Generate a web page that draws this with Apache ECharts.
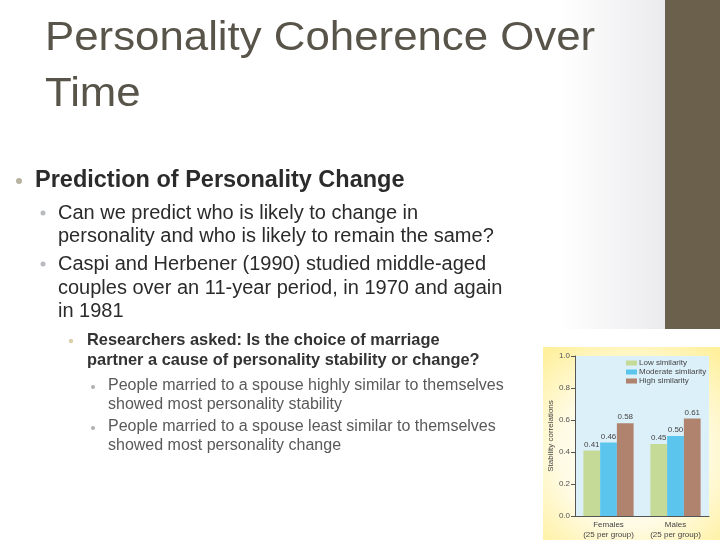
<!DOCTYPE html>
<html lang="en">
<head>
    <meta charset="utf-8">
    <title>Personality Coherence Over Time</title>
    <script src="https://cdn.jsdelivr.net/npm/echarts@6/dist/echarts.min.js"></script>
    <style>
        html, body { margin: 0; padding: 0; background: #fff; }
    </style>
</head>
<body>

<div id="main" style="width: 720px;height:540px;"></div>

<script>
    // chart data
    var categories = ['Females\n(25 per group)', 'Males\n(25 per group)'];
    var seriesNames = ['Low similarity', 'Moderate similarity', 'High similarity'];
    var lowSimilarity = [0.41, 0.45];
    var moderateSimilarity = [0.46, 0.50];
    var highSimilarity = [0.58, 0.61];
    var barColors = ['#c6da98', '#5cc5ee', '#b0836f'];

    var FONT = '"Liberation Sans", Arial, sans-serif';

    // slide text, one entry per line: [text, x, y, size, weight, color, scaleX]
    var slideLines = [
        ['Personality Coherence Over', 45, 38.5, 40, 'normal', '#58544a', 1.095],
        ['Time', 45, 94.5, 40, 'normal', '#58544a', 1.095],
        ['Prediction of Personality Change', 35, 181, 23.5, 'bold', '#2b2b2b', 1],
        ['Can we predict who is likely to change in', 58, 213, 20, 'normal', '#2b2b2b', 1],
        ['personality and who is likely to remain the same?', 58, 236.5, 20, 'normal', '#2b2b2b', 1],
        ['Caspi and Herbener (1990) studied middle-aged', 58, 264.5, 20, 'normal', '#2b2b2b', 1],
        ['couples over an 11-year period, in 1970 and again', 58, 288, 20, 'normal', '#2b2b2b', 1],
        ['in 1981', 58, 311.5, 20, 'normal', '#2b2b2b', 1],
        ['Researchers asked: Is the choice of marriage', 87, 340, 16.4, 'bold', '#333333', 1],
        ['partner a cause of personality stability or change?', 87, 360, 16.4, 'bold', '#333333', 1],
        ['People married to a spouse highly similar to themselves', 108, 386, 16, 'normal', '#595959', 1],
        ['showed most personality stability', 108, 405, 16, 'normal', '#595959', 1],
        ['People married to a spouse least similar to themselves', 108, 427, 16, 'normal', '#595959', 1],
        ['showed most personality change', 108, 446, 16, 'normal', '#595959', 1]
    ];
    // bullet dots: [x, y, r, color]
    var bullets = [
        [19, 181, 3, '#b8b3a0'],
        [43, 213, 2.5, '#b8bcc0'],
        [43, 264, 2.5, '#b8bcc0'],
        [71, 341, 2.2, '#d8d0a8'],
        [93, 387, 2, '#b0b0b0'],
        [93, 428, 2, '#b0b0b0']
    ];

    var myChart = echarts.init(document.getElementById('main'));

    var graphics = [
        // soft grey fade before the side band
        {
            type: 'rect', z: -20,
            shape: {x: 560, y: 0, width: 105, height: 329},
            style: {
                fill: new echarts.graphic.LinearGradient(0, 0, 1, 0, [
                    {offset: 0, color: '#ffffff'},
                    {offset: 1, color: '#ebebee'}
                ])
            }
        },
        // dark side band
        {
            type: 'rect', z: -20,
            shape: {x: 665, y: 0, width: 55, height: 329},
            style: {fill: '#6b604b'}
        },
        // pale yellow card behind the chart
        {
            type: 'rect', z: -10,
            shape: {x: 543, y: 347, width: 177, height: 193},
            style: {
                fill: new echarts.graphic.RadialGradient(0.5, 0.55, 0.75, [
                    {offset: 0, color: '#ffffff'},
                    {offset: 0.55, color: '#fffbe4'},
                    {offset: 1, color: '#fff09c'}
                ])
            }
        }
    ];

    slideLines.forEach(function (l) {
        graphics.push({
            type: 'text',
            x: l[1], y: l[2],
            scaleX: l[6],
            style: {
                text: l[0], x: 0, y: 0,
                fill: l[5],
                font: l[4] + ' ' + l[3] + 'px ' + FONT,
                verticalAlign: 'middle'
            }
        });
    });
    bullets.forEach(function (b) {
        graphics.push({
            type: 'circle',
            shape: {cx: b[0], cy: b[1], r: b[2]},
            style: {fill: b[3]}
        });
    });

    function barSeries(name, data, color) {
        return {
            name: name,
            type: 'bar',
            data: data,
            barGap: '0%',
            barCategoryGap: '25%',
            itemStyle: {color: color},
            label: {
                show: true,
                position: 'top',
                distance: 2,
                fontSize: 8,
                fontFamily: FONT,
                color: '#444',
                formatter: function (p) { return p.value.toFixed(2); }
            }
        };
    }

    var option = {
        animation: false,
        graphic: graphics,
        grid: {
            left: 575, right: 11, top: 356, bottom: 23,
            show: true,
            backgroundColor: '#dcf0fa',
            borderWidth: 0
        },
        legend: {
            orient: 'vertical',
            left: 626, top: 359,
            padding: 0,
            icon: 'rect',
            itemWidth: 11, itemHeight: 5, itemGap: 1,
            textStyle: {fontSize: 8, fontFamily: FONT, color: '#444', padding: [0, 0, 0, -3]},
            data: seriesNames
        },
        xAxis: {
            type: 'category',
            data: categories,
            axisLine: {lineStyle: {color: '#555', width: 1}},
            axisTick: {show: false},
            axisLabel: {fontSize: 8, fontFamily: FONT, color: '#444', lineHeight: 10, margin: 4}
        },
        yAxis: {
            type: 'value',
            min: 0, max: 1, interval: 0.2,
            name: 'Stability correlations',
            nameLocation: 'middle',
            nameGap: 20,
            nameTextStyle: {fontSize: 8, fontFamily: FONT, color: '#444'},
            axisLine: {show: true, lineStyle: {color: '#555', width: 1}},
            axisTick: {show: true, length: 4, lineStyle: {color: '#555'}},
            axisLabel: {
                fontSize: 8, fontFamily: FONT, color: '#555', margin: 5,
                formatter: function (v) { return v.toFixed(1); }
            },
            splitLine: {show: false}
        },
        series: [
            barSeries(seriesNames[0], lowSimilarity, barColors[0]),
            barSeries(seriesNames[1], moderateSimilarity, barColors[1]),
            barSeries(seriesNames[2], highSimilarity, barColors[2])
        ]
    };

    myChart.setOption(option);
</script>
</body>
</html>
